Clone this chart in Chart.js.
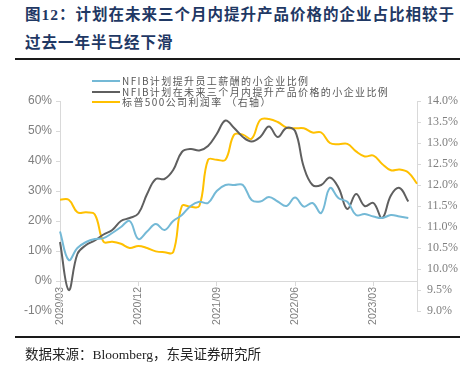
<!DOCTYPE html>
<html>
<head>
<meta charset="utf-8">
<script src="https://cdn.jsdelivr.net/npm/chart.js@4.4.0/dist/chart.umd.min.js"></script>
<style>
  body { margin: 0; background: #fff; }
  #wrap { position: relative; width: 472px; height: 370px; overflow: hidden; }
  #chart { position: absolute; left: 0; top: 0; }
  .title { position: absolute; left: 25px; font-family: "Liberation Serif", "Noto Sans CJK SC", serif; font-weight: bold; font-size: 15.5px; line-height: 20px; color: #1f3864; letter-spacing: 1.0px; white-space: nowrap; }
  .rule { position: absolute; left: 15px; width: 445px; background: #1a1a1a; }
  #source { position: absolute; left: 25px; top: 346px; font-family: "Liberation Serif", "Noto Sans CJK SC", serif; font-size: 13.5px; line-height: 18px; color: #222; white-space: nowrap; }
  #legend { position: absolute; left: 92px; top: 76px; font-family: "Noto Sans CJK SC", sans-serif; font-size: 10px; color: #595959; letter-spacing: 1.4px; }
  #legend .item { height: 10.5px; line-height: 10.5px; display: flex; align-items: center; white-space: nowrap; }
  #legend .swatch { width: 28px; height: 2px; margin-right: 2px; }
</style>
</head>
<body>
<div id="wrap">
  <div class="title" style="top:5px">图12：计划在未来三个月内提升产品价格的企业占比相较于</div>
  <div class="title" style="top:33px">过去一年半已经下滑</div>
  <div class="rule" style="top:58px;height:2px"></div>
  <canvas id="chart" width="472" height="370"></canvas>
  <div id="legend"></div>
  <div class="rule" style="top:336px;height:1.5px"></div>
  <div id="source">数据来源：Bloomberg，东吴证券研究所</div>
</div>
<script>
// monthly categories, 2020/03 .. 2023/08
const months = [];
for (let y = 2020, m = 3; months.length < 42; m++) {
    if (m > 12) { m = 1; y++; }
    months.push(y + '/' + String(m).padStart(2, '0'));
}

const seriesNames = [
    'NFIB计划提升员工薪酬的小企业比例',
    'NFIB计划在未来三个月内提升产品价格的小企业比例',
    '标普500公司利润率 （右轴）'
];

// NFIB: share planning to raise compensation (%)
const wagePlans = [
    16.5, 7, 11, 13, 14, 14.3, 16, 18, 20, 14,
    16.5, 19, 17, 20, 22, 25, 26.4, 26, 30, 32,
    32, 32, 27, 26.5, 28, 26.5, 25, 27.8, 24.8, 26,
    22.7, 31, 27.6, 26.4, 22, 22.3, 21.5, 21, 22, 21.5,
    21
];

// NFIB: share planning to raise prices in next 3 months (%)
const pricePlans = [
    13, -3, 9, 12, 13.5, 15.5, 17, 20, 21, 22.5,
    29, 34, 34, 37, 43, 44, 43.5, 45, 49, 53.5,
    51, 48, 46.5, 48, 51.5, 48, 51, 50, 38, 32,
    32, 34.5, 31, 24, 29, 25, 26, 21, 28.5, 31,
    26.5
];

// S&P 500 profit margin (%, right axis)
const spMargin = [
    11.65, 11.65, 11.35, 11.35, 11.3, 10.65, 10.65, 10.6, 10.5, 10.55,
    10.5, 10.42, 10.4, 10.4, 11.5, 11.48, 11.5, 12.6, 12.6, 12.6,
    13.2, 13.2, 13.1, 13.55, 13.57, 13.5, 13.37, 13.35, 13.35, 13.25,
    13.25, 13.0, 12.97, 12.98, 12.8, 12.68, 12.7, 12.5, 12.35, 12.37,
    12.3, 12.03
];

const leftTicks = { min: -10, max: 60, step: 10 };
const rightTicks = { min: 9, max: 14, step: 0.5 };
const labelEvery = 9;

const axisGray = '#d9d9d9';
const tickGray = '#7f7f7f';

// builds the legend as html rows from Chart.js legend items
const htmlLegend = {
    id: 'htmlLegend',
    afterUpdate(chart) {
        const box = document.getElementById('legend');
        box.innerHTML = '';
        const items = chart.options.plugins.legend.labels.generateLabels(chart);
        items.forEach(item => {
            const row = document.createElement('div');
            row.className = 'item';
            const sw = document.createElement('span');
            sw.className = 'swatch';
            sw.style.background = item.strokeStyle;
            const txt = document.createElement('span');
            txt.textContent = item.text;
            row.appendChild(sw);
            row.appendChild(txt);
            box.appendChild(row);
        });
    }
};

const ctx = document.getElementById('chart').getContext('2d');
new Chart(ctx, {
    type: 'line',
    data: {
        labels: months,
        datasets: [
            { label: seriesNames[0], data: wagePlans, borderColor: '#74b9d6', yAxisID: 'y' },
            { label: seriesNames[1], data: pricePlans, borderColor: '#5f5f5f', yAxisID: 'y' },
            { label: seriesNames[2], data: spMargin, borderColor: '#ffc000', yAxisID: 'y2' }
        ]
    },
    options: {
        responsive: false,
        animation: false,
        layout: { padding: { top: 101, bottom: 59, left: 0, right: 0 }, autoPadding: false },
        elements: {
            line: { borderWidth: 2, tension: 0.4, fill: false },
            point: { radius: 0 }
        },
        plugins: {
            legend: { display: false },
            tooltip: { enabled: false }
        },
        scales: {
            x: {
                position: { y: 0 },
                grid: { drawOnChartArea: false, tickLength: 4, color: axisGray },
                border: { color: axisGray },
                ticks: {
                    autoSkip: false,
                    minRotation: 90,
                    maxRotation: 90,
                    padding: 2,
                    color: tickGray,
                    font: { family: 'Liberation Sans', size: 10.5 },
                    callback: (val, idx) => idx % labelEvery === 0 ? months[idx] : null
                },
                afterFit: s => { s.paddingLeft = 0; s.paddingRight = 0; }
            },
            y: {
                position: 'left',
                min: leftTicks.min,
                max: leftTicks.max,
                grid: { drawOnChartArea: false, tickLength: 4, color: axisGray },
                border: { color: axisGray },
                ticks: {
                    stepSize: leftTicks.step,
                    padding: 4,
                    color: tickGray,
                    font: { family: 'Liberation Sans', size: 12 },
                    callback: v => v + '%'
                },
                afterFit: s => { s.width = 60; s.paddingTop = 0; s.paddingBottom = 0; }
            },
            y2: {
                position: 'right',
                min: rightTicks.min,
                max: rightTicks.max,
                grid: { drawOnChartArea: false, tickLength: 4, color: axisGray },
                border: { color: axisGray },
                ticks: {
                    stepSize: rightTicks.step,
                    padding: 6,
                    color: tickGray,
                    font: { family: 'Liberation Serif', size: 12 },
                    callback: v => v.toFixed(1) + '%'
                },
                afterFit: s => { s.width = 55; s.paddingTop = 0; s.paddingBottom = 0; }
            }
        }
    },
    plugins: [htmlLegend]
});
</script>
</body>
</html>
